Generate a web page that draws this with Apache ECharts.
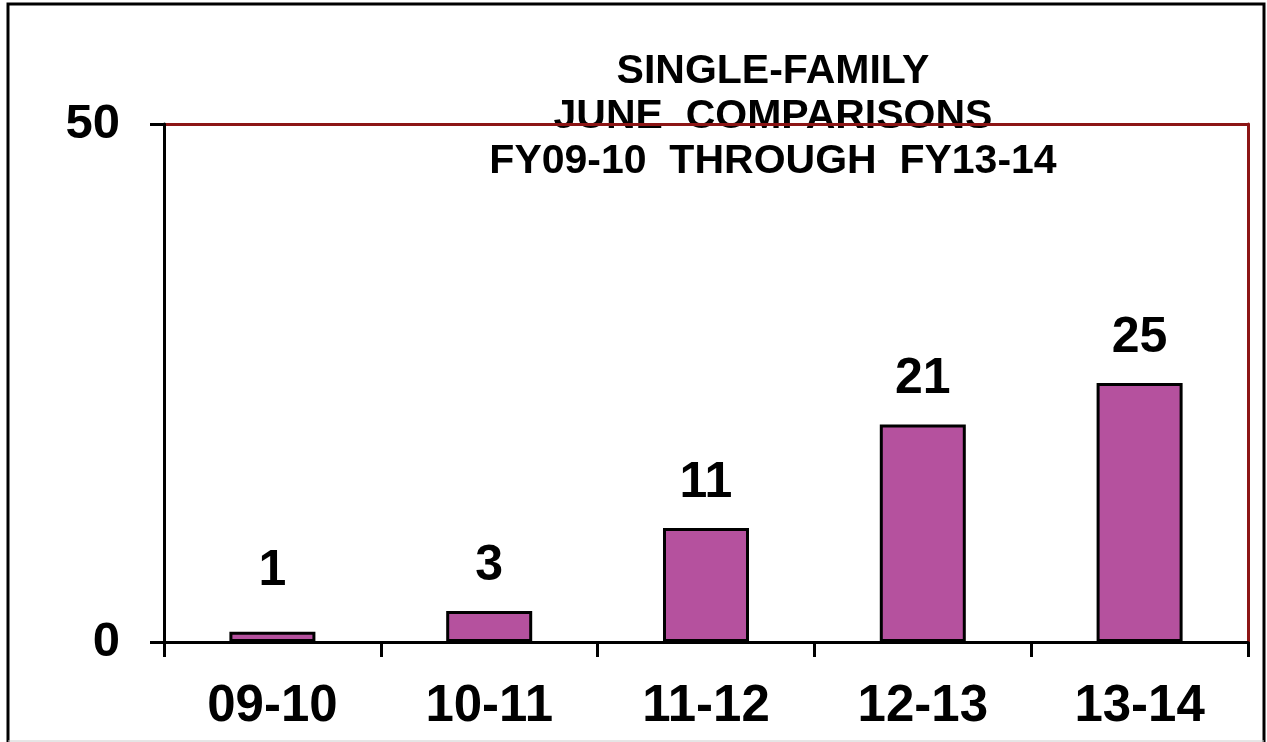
<!DOCTYPE html>
<html>
<head>
<meta charset="utf-8">
<script src="https://cdn.jsdelivr.net/npm/echarts@6/dist/echarts.min.js"></script>
<style>
  html, body { margin: 0; padding: 0; background: #fff; }
  #main { width: 1267px; height: 742px; }
</style>
</head>
<body>
<div id="main"></div>
<script>
// 数据
var categories = ['09-10', '10-11', '11-12', '12-13', '13-14'];
var values = [1, 3, 11, 21, 25];
var yTicks = [0, 50];

var font = '"Liberation Sans", Arial, sans-serif';
var red = '#8C1515';

// 小柱子的标签在原图中抬高了一些
var barData = values.map(function (v, i) {
    return i === 0 ? { value: v, label: { distance: 35 } } : v;
});

var myChart = echarts.init(document.getElementById('main'));
var option = {
    animation: false,
    backgroundColor: '#fff',
    title: {
        text: 'SINGLE-FAMILY\nJUNE  COMPARISONS\nFY09-10  THROUGH  FY13-14',
        left: 768,
        top: 44,
        textAlign: 'center',
        z: 1,
        textStyle: {
            fontFamily: font,
            fontWeight: 'bold',
            fontSize: 41,
            lineHeight: 45,
            color: '#000'
        }
    },
    graphic: [
        {
            type: 'polyline',
            silent: true,
            shape: { points: [[8, 745], [8, 4], [1264, 4], [1264, 745]] },
            style: { stroke: '#000', lineWidth: 3, fill: null }
        },
        {
            type: 'line',
            silent: true,
            shape: { x1: 8, y1: 741, x2: 1264, y2: 741 },
            style: { stroke: '#ccc', lineWidth: 1 }
        }
    ],
    grid: {
        left: 164,
        right: 19,
        top: 124,
        bottom: 100,
        containLabel: false
    },
    xAxis: [
        {
            type: 'category',
            data: categories,
            boundaryGap: true,
            axisLine: { lineStyle: { color: '#000', width: 3 } },
            axisTick: { show: true, length: 15, lineStyle: { color: '#000', width: 3 } },
            axisLabel: {
                margin: 39,
                fontFamily: font,
                fontWeight: 'bold',
                fontSize: 51,
                color: '#000'
            },
            z: 12
        },
        {
            type: 'category',
            data: categories,
            position: 'top',
            axisLine: { onZero: false, lineStyle: { color: red, width: 3 } },
            axisTick: { show: false },
            axisLabel: { show: false },
            z: 10
        }
    ],
    yAxis: [
        {
            type: 'value',
            min: yTicks[0],
            max: yTicks[1],
            interval: 50,
            splitLine: { show: false },
            axisLine: { show: true, lineStyle: { color: '#000', width: 3 } },
            axisTick: { show: true, length: 14, lineStyle: { color: '#000', width: 3 } },
            axisLabel: {
                margin: 44,
                fontFamily: font,
                fontWeight: 'bold',
                fontSize: 49,
                color: '#000'
            },
            z: 11
        },
        {
            type: 'value',
            min: yTicks[0],
            max: yTicks[1],
            position: 'right',
            splitLine: { show: false },
            axisLine: { show: true, onZero: false, lineStyle: { color: red, width: 3 } },
            axisTick: { show: false },
            axisLabel: { show: false },
            z: 4
        }
    ],
    series: [
        {
            type: 'bar',
            xAxisIndex: 0,
            yAxisIndex: 0,
            data: barData,
            barWidth: 86,
            itemStyle: {
                color: '#B5519E',
                borderColor: '#000',
                borderWidth: 3
            },
            label: {
                show: true,
                position: 'top',
                distance: 20,
                fontFamily: font,
                fontWeight: 'bold',
                fontSize: 50,
                color: '#000'
            }
        }
    ]
};
myChart.setOption(option);
</script>
</body>
</html>
